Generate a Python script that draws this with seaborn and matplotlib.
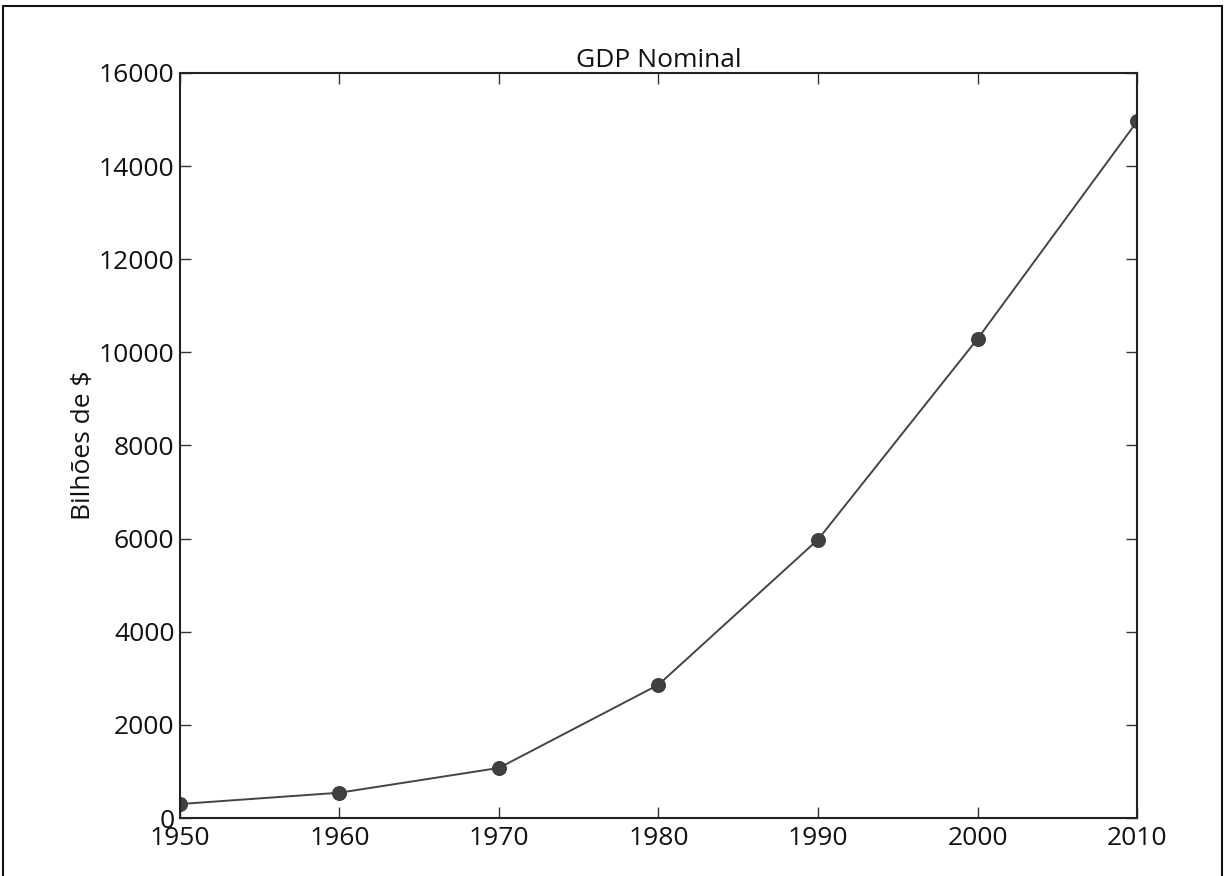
import matplotlib
matplotlib.use("Agg")
import matplotlib.pyplot as plt
import seaborn as sns
import pandas as pd
from matplotlib.lines import Line2D

years = [1950, 1960, 1970, 1980, 1990, 2000, 2010]
gdp = [300.2, 543.3, 1075.9, 2862.5, 5979.6, 10289.7, 14958.3]
yticks = [0, 2000, 4000, 6000, 8000, 10000, 12000, 14000, 16000]

sns.set_theme(style="white")
plt.rcParams["font.family"] = ["Open Sans", "DejaVu Sans"]

df = pd.DataFrame({"ano": years, "gdp": gdp})

fig = plt.figure(figsize=(12.25, 8.76), dpi=100)
ax = fig.add_axes([0.1469, 0.0662, 0.7813, 0.8505])

sns.lineplot(data=df, x="ano", y="gdp", ax=ax, color="#444444", linewidth=1.4,
             marker="o", markersize=10, markeredgecolor="#3a3a3a",
             markerfacecolor="#404040")

ax.set_xlim(1950, 2010)
ax.set_ylim(0, 16000)
ax.set_xticks(years)
ax.set_yticks(yticks)
ax.set_title("GDP Nominal", fontsize=19, pad=4, color="#111111")
ax.set_xlabel("")
ax.set_ylabel("Bilhões de $", fontsize=19, labelpad=2, color="#111111")
ax.tick_params(axis="both", direction="in", length=8, width=1, color="#333333",
               labelsize=19, top=True, right=True, bottom=True, left=True,
               pad=4, labelcolor="#111111")
ax.tick_params(axis="x", pad=6)
for s in ax.spines.values():
    s.set_color("#222222")
    s.set_linewidth(1.5)

# outer frame around the picture
frame_kw = dict(color="#111111", linewidth=1.5, transform=fig.transFigure)
x0, x1 = 3 / 1225, 1222 / 1225
y1 = 1 - 6 / 876
fig.add_artist(Line2D([x0, x0], [0, y1], **frame_kw))
fig.add_artist(Line2D([x0, x1], [y1, y1], **frame_kw))
fig.add_artist(Line2D([x1, x1], [0, y1], **frame_kw))

fig.savefig("out.png", dpi=100)
